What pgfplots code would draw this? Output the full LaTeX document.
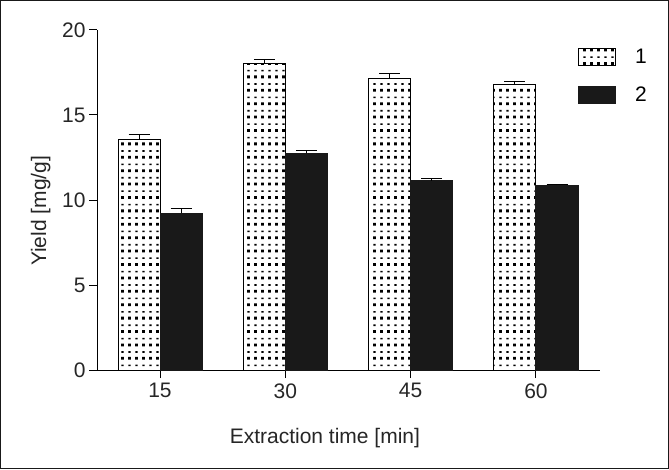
\documentclass[border=0pt]{standalone}
\usepackage{fontspec}
\setmainfont{Liberation Sans}
\usepackage{pgfplots}
\pgfplotsset{compat=1.18}
\usetikzlibrary{patterns}
\pgfdeclarepatternformonly{pixdots}{\pgfqpoint{-1pt}{-1pt}}{\pgfqpoint{8pt}{14.4pt}}{\pgfqpoint{7pt}{13.4pt}}{%
  \pgfpathrectangle{\pgfqpoint{2.1pt}{2.1pt}}{\pgfqpoint{2.8pt}{2.8pt}}%
  \pgfpathrectangle{\pgfqpoint{2.4pt}{9.0pt}}{\pgfqpoint{2.2pt}{1.6pt}}%
  \pgfusepath{fill}}
\pgfplotstableread{
x y1 e1 y2 e2
15 13.55 0.32 9.22 0.28
30 18.00 0.24 12.74 0.20
45 17.16 0.29 11.12 0.12
60 16.82 0.16 10.88 0.06
}\datatable
\pgfplotsset{
  /pgfplots/error bars/error bar style={line width=1pt, black},
  /pgfplots/error bars/error mark options={rotate=90, mark size=10.5pt, line width=1pt, black},
}
\begin{document}
\begin{tikzpicture}
\useasboundingbox (0,0) rectangle (669pt,469pt);
\draw[line width=1.2pt, black!90] (0.6pt,0.6pt) rectangle (668.4pt,468.4pt);
\begin{axis}[
  at={(97pt,99pt)}, anchor=south west,
  scale only axis, width=503pt, height=340pt,
  xmin=7.46, xmax=67.66, ymin=0, ymax=20,
  axis x line*=bottom, axis y line*=left,
  axis line style={-, line width=1pt, black},
  tick align=outside, major tick length=8pt,
  tick style={line width=1pt, black},
  xtick={15,30,45,60}, ytick={0,5,10,15,20},
  /pgf/number format/assume math mode=true,
  tick label style={font=\fontsize{21}{25}\selectfont, black!85},
  xticklabel style={yshift=-2pt},
  xlabel={Extraction time [min]}, ylabel={Yield [mg/g]},
  label style={font=\fontsize{21}{25}\selectfont, black!85},
  xlabel style={at={(axis description cs:0.453,-0.20)}, anchor=center},
  ylabel style={at={(axis description cs:-0.112,0.468)}, anchor=center},
  ybar, bar width=42pt,
  legend style={at={(axis description cs:0.956,0.950)}, anchor=north west, draw=none, fill=none,
    font=\fontsize{21}{25}\selectfont, row sep=18pt, inner sep=0pt},
  legend cell align=left,
  legend image code/.code={\draw[#1, bar shift=0pt] (0pt,-8.5pt) rectangle (37pt,8.5pt);},
]
\addplot[draw=black, line width=1pt, pattern=pixdots, pattern color=black, bar shift=-21pt,
  error bars/.cd, y dir=plus, y explicit]
  table[x=x, y=y1, y error=e1] {\datatable};
\addlegendentry{\hspace{17pt}1}
\addplot[draw=black!90, line width=1pt, fill=black!90, bar shift=21pt,
  error bars/.cd, y dir=plus, y explicit]
  table[x=x, y=y2, y error=e2] {\datatable};
\addlegendentry{\hspace{17pt}2}
\end{axis}
\end{tikzpicture}
\end{document}
